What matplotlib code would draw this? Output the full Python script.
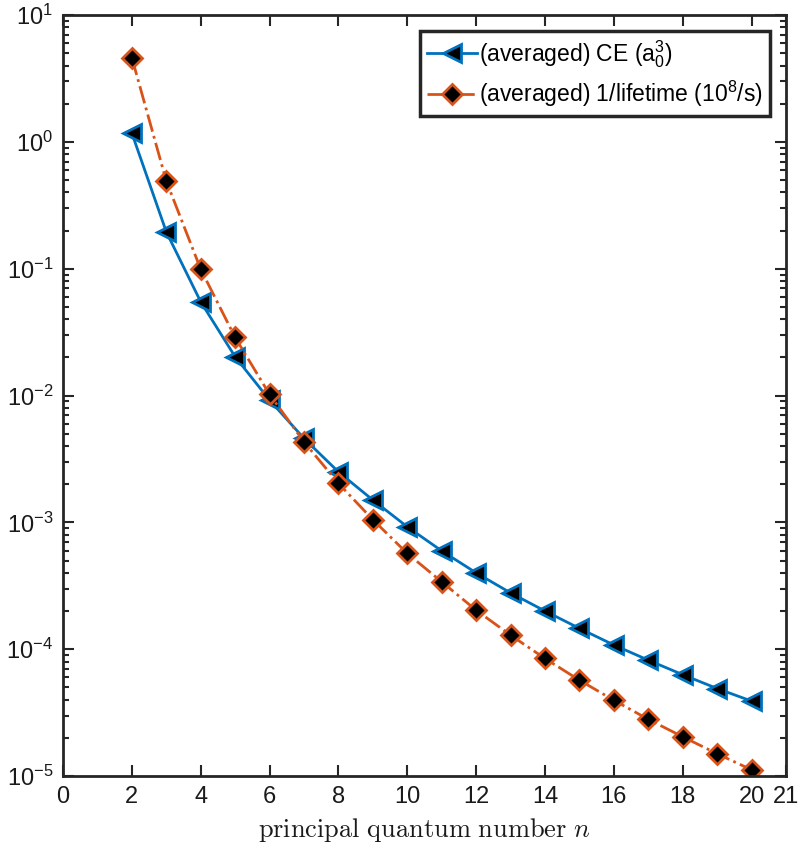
import matplotlib
matplotlib.use('Agg')
import matplotlib.pyplot as plt
from matplotlib.ticker import LogLocator, NullFormatter

plt.rcParams['font.family'] = ['Liberation Sans', 'DejaVu Sans']
plt.rcParams['axes.unicode_minus'] = False

# principal quantum number and the two averaged quantities
n = [2, 3, 4, 5, 6, 7, 8, 9, 10, 11, 12, 13, 14, 15, 16, 17, 18, 19, 20]
ce = [1.17, 0.195, 0.0548, 0.0202, 0.0092, 0.00459, 0.0025, 0.0015, 0.000923,
      0.000596, 0.0004, 0.000278, 0.0002, 0.000146, 0.000108, 8.2e-5, 6.3e-5,
      4.9e-5, 3.9e-5]
inv_life = [4.6, 0.49, 0.099, 0.0287, 0.0102, 0.00431, 0.00203, 0.00105,
            0.000569, 0.00034, 0.000203, 0.000129, 8.45e-5, 5.7e-5, 3.96e-5,
            2.8e-5, 2.04e-5, 1.5e-5, 1.12e-5]
xticks = [0, 2, 4, 6, 8, 10, 12, 14, 16, 18, 20, 21]

blue = '#0072BD'
orange = '#D95319'
axc = '#262626'

fig = plt.figure(figsize=(7.99, 8.5), dpi=100)
ax = fig.add_axes([0.0789, 0.087, 0.9048, 0.8953])

ax.plot(n, ce, '-', color=blue, lw=2, marker='<', ms=13, mfc='k', mec=blue,
        mew=2, label=r'(averaged) CE ($\mathdefault{a_0^3}$)')
ax.plot(n, inv_life, '-.', color=orange, lw=2, marker='D', ms=10, mfc='k',
        mec=orange, mew=2, label=r'(averaged) 1/lifetime ($\mathdefault{10^8}$/s)')

ax.set_yscale('log')
ax.set_xlim(0, 21)
ax.set_ylim(1e-5, 10)
ax.set_xticks(xticks)
ax.yaxis.set_major_locator(LogLocator(base=10, numticks=10))
ax.yaxis.set_minor_locator(LogLocator(base=10, subs=range(2, 10), numticks=100))
ax.yaxis.set_minor_formatter(NullFormatter())

for s in ax.spines.values():
    s.set_linewidth(2)
    s.set_color(axc)
ax.tick_params(which='both', direction='in', top=True, right=True,
               colors=axc, labelcolor='#1a1a1a', labelsize=17, width=1.5)
ax.tick_params(which='major', length=8, pad=7)
ax.tick_params(which='minor', length=4)

ax.set_xlabel(r'$\mathrm{principal\ quantum\ number}\ n$', fontsize=19,
              math_fontfamily='cm', color='#1a1a1a', labelpad=6)

leg = ax.legend(loc='upper right', fontsize=16.5, fancybox=False, framealpha=1,
                edgecolor='#262626', handlelength=2.2, handletextpad=0.1,
                borderpad=0.3, labelspacing=0.4, borderaxespad=0.7)
leg.get_frame().set_linewidth(2.5)

fig.savefig('out.png', dpi=100)
